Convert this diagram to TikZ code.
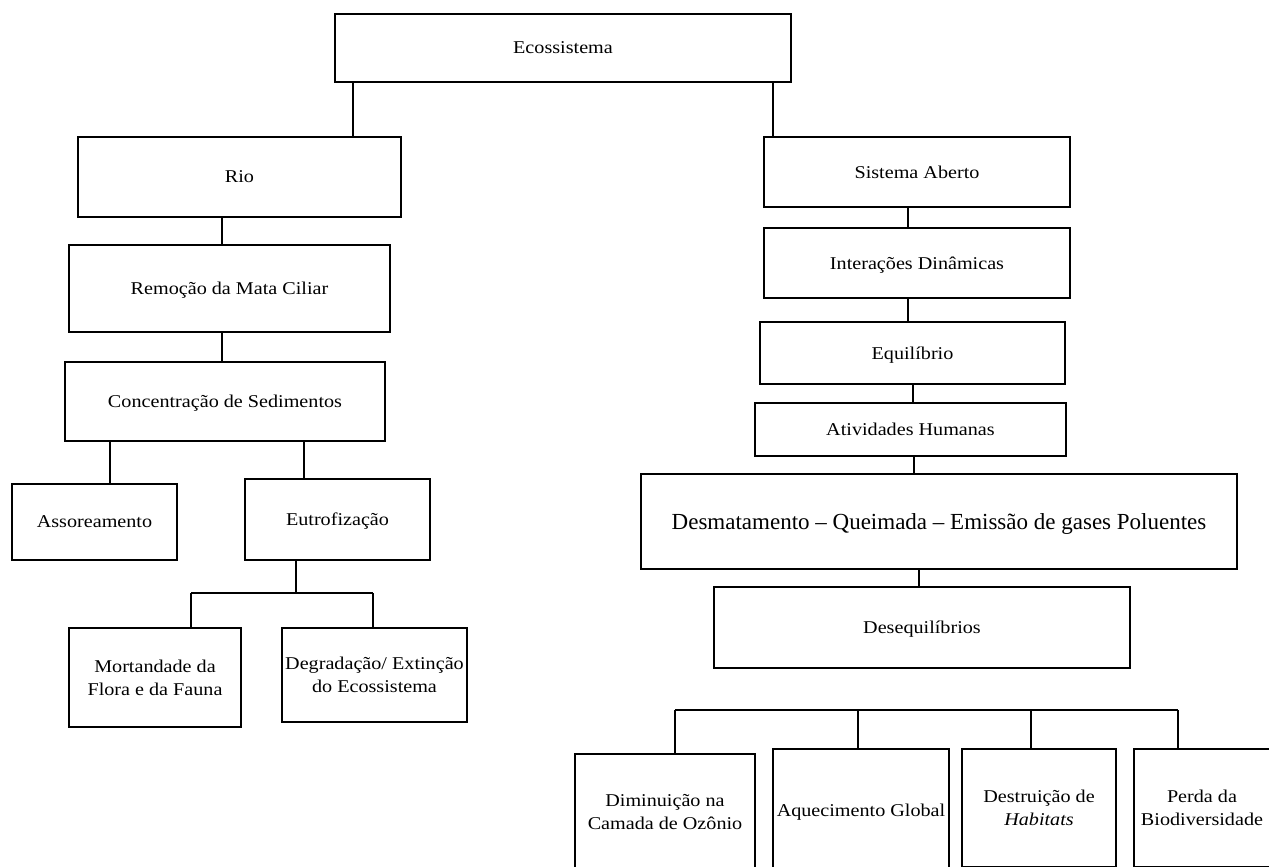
\documentclass[tikz,border=0pt]{standalone}
\usepackage{fontspec}
\setmainfont{Liberation Serif}[FakeStretch=1.12]
\newfontfamily\bigf{Liberation Serif}
\begin{document}
\begin{tikzpicture}[x=1pt,y=-1pt,
  box/.style={draw, line width=1.3pt, inner sep=0pt, align=center, text depth=0pt,
    font=\fontsize{18}{23}\selectfont},
  conn/.style={line width=1.3pt}]
\useasboundingbox (0,0) rectangle (1269,867);
\fill[white] (0,0) rectangle (1269,867);
\clip (0,0) rectangle (1269,867);
% left / top
\node[box, minimum width=456pt, minimum height=68pt] (eco) at (563,48) {Ecossistema};
\node[box, minimum width=323pt, minimum height=80pt] (rio) at (239.5,177) {Rio};
\node[box, minimum width=321pt, minimum height=87pt] (rem) at (229.5,288.5) {Remoção da Mata Ciliar};
\node[box, minimum width=320pt, minimum height=79pt] (conc) at (225,401.5) {Concentração de Sedimentos};
\node[box, minimum width=165pt, minimum height=76pt] (ass) at (94.5,522) {Assoreamento};
\node[box, minimum width=185pt, minimum height=81pt] (eut) at (337.5,519.5) {Eutrofização};
\node[box, minimum width=172pt, minimum height=99pt] (mort) at (155,677.5) {Mortandade da\\Flora e da Fauna};
\node[box, minimum width=185pt, minimum height=94pt] (deg) at (374.5,675) {Degradação/ Extinção\\do Ecossistema};
% right
\node[box, minimum width=306pt, minimum height=70pt] (sis) at (917,172) {Sistema Aberto};
\node[box, minimum width=306pt, minimum height=70pt] (int) at (917,263) {Interações Dinâmicas};
\node[box, minimum width=305pt, minimum height=62pt] (equ) at (912.5,353) {Equilíbrio};
\node[box, minimum width=311pt, minimum height=53pt] (ativ) at (910.5,429.5) {Atividades Humanas};
\node[box, minimum width=596pt, minimum height=95pt, font=\bigf\fontsize{23}{27}\selectfont] (desm) at (939,521.5) {Desmatamento – Queimada – Emissão de gases Poluentes};
\node[box, minimum width=416pt, minimum height=81pt] (deseq) at (922,627.5) {Desequilíbrios};
\node[box, minimum width=180pt, minimum height=116pt] (dim) at (665,812) {Diminuição na\\Camada de Ozônio};
\node[box, minimum width=176pt, minimum height=122pt] (aq) at (861,810) {Aquecimento Global};
\node[box, minimum width=154pt, minimum height=118pt] (des) at (1039,808) {Destruição de\\\textit{Habitats}};
\node[box, minimum width=136pt, minimum height=118pt] (per) at (1202,808) {Perda da\\Biodiversidade};
% connectors top
\draw[conn] (eco.south -| 353,0) -- (rio.north -| 353,0);
\draw[conn] (eco.south -| 773,0) -- (sis.north -| 773,0);
\draw[conn] (rio.south -| 222,0) -- (rem.north -| 222,0);
\draw[conn] (rem.south -| 222,0) -- (conc.north -| 222,0);
\draw[conn] (conc.south -| 110,0) -- (ass.north -| 110,0);
\draw[conn] (conc.south -| 304,0) -- (eut.north -| 304,0);
% eutrofizacao branch
\coordinate (ej) at (296,593);
\coordinate (el) at (191,593);
\coordinate (er) at (373,593);
\draw[conn] (eut.south -| ej) -- (ej);
\draw[conn] (el) -- (er);
\draw[conn] (el) -- (el |- mort.north);
\draw[conn] (er) -- (er |- deg.north);
% right chain
\draw[conn] (sis.south -| 908,0) -- (int.north -| 908,0);
\draw[conn] (int.south -| 908,0) -- (equ.north -| 908,0);
\draw[conn] (equ.south -| 913,0) -- (ativ.north -| 913,0);
\draw[conn] (ativ.south -| 914,0) -- (desm.north -| 914,0);
\draw[conn] (desm.south -| 919,0) -- (deseq.north -| 919,0);
% bottom bar
\coordinate (b1) at (675,710);
\coordinate (b2) at (858,710);
\coordinate (b3) at (1031,710);
\coordinate (b4) at (1178,710);
\draw[conn] (b1) -- (b4);
\draw[conn] (b1) -- (b1 |- dim.north);
\draw[conn] (b2) -- (b2 |- aq.north);
\draw[conn] (b3) -- (b3 |- des.north);
\draw[conn] (b4) -- (b4 |- per.north);
\end{tikzpicture}
\end{document}
